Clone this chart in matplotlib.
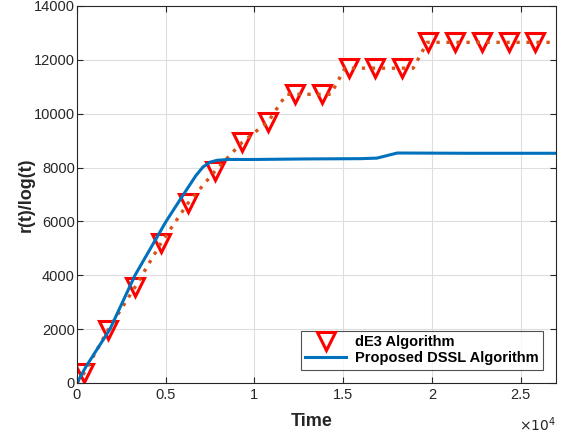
import matplotlib.pyplot as plt

plt.rcParams['font.family'] = ['Liberation Sans', 'DejaVu Sans']

# dE3 curve (dotted line) knots
t_de3 = [0, 400, 1750, 3270, 4740, 6260, 7780, 9310, 10770, 11800, 13820, 14300,
         15100, 16810, 18330, 18950, 19740, 27000]
r_de3 = [0, 370, 1970, 3560, 5200, 6680, 7870, 8940, 9700, 10720, 10720, 10720,
         11690, 11690, 11690, 11690, 12650, 12650]

# dE3 markers
t_mark = [400, 1750, 3270, 4740, 6260, 7780, 9310, 10770, 12300, 13820, 15340,
          16810, 18330, 19800, 21320, 22840, 24370, 25830]
r_mark = [370, 1970, 3560, 5200, 6680, 7870, 8940, 9680, 10720, 10720, 11690,
          11690, 11690, 12650, 12650, 12650, 12650, 12650]

# proposed DSSL
t_dssl = [0, 500, 1860, 3270, 5020, 6000, 6700, 7100, 7500, 7900, 8500, 10000,
          13000, 16000, 16900, 18050, 22000, 27000]
r_dssl = [0, 600, 2000, 4000, 6000, 7000, 7700, 8020, 8200, 8270, 8300, 8300,
          8320, 8330, 8350, 8540, 8530, 8530]

fig = plt.figure(figsize=(5.69, 4.36), dpi=100)
ax = fig.add_axes([0.1353, 0.1216, 0.842, 0.8647])

ax.plot(t_mark, r_mark, 'v', markersize=13, markerfacecolor='none',
        markeredgecolor='red', markeredgewidth=2.2, label='dE3 Algorithm')
ax.plot(t_de3, r_de3, linestyle=(0, (1, 2)), color='#D95319', linewidth=2.4)
ax.plot(t_dssl, r_dssl, '-', color='#0072BD', linewidth=2.2,
        label='Proposed DSSL Algorithm')

ax.set_xlim(0, 27000)
ax.set_ylim(0, 14000)
ax.set_xticks([0, 5000, 10000, 15000, 20000, 25000])
ax.set_xticklabels(['0', '0.5', '1', '1.5', '2', '2.5'])
ax.set_yticks(range(0, 14001, 2000))
ax.grid(True, color='#DEDEDE', linewidth=0.8)
ax.set_axisbelow(True)
ax.tick_params(direction='in', top=True, right=True, labelsize=10.5,
               colors='#262626', length=4)
ax.tick_params(axis='y', pad=1.5)
for s in ax.spines.values():
    s.set_color('#262626')

ax.set_xlabel('Time', fontsize=13, fontweight='bold', color='#262626')
ax.xaxis.set_label_coords(0.49, -0.08)
ax.set_ylabel('r(t)/log(t)', fontsize=13, fontweight='bold', color='#262626')
ax.yaxis.set_label_coords(-0.088, 0.5)
ax.text(1.0, -0.11, r'$\times10^4$', transform=ax.transAxes, ha='right',
        va='center', fontsize=10, color='#262626')

leg = ax.legend(loc='lower right', prop={'weight': 'bold', 'size': 10.5},
                fancybox=False, edgecolor='#262626', borderpad=0.3,
                handlelength=2.8, labelspacing=0.15, borderaxespad=0.9,
                handletextpad=0.6)
leg.get_frame().set_linewidth(0.8)

fig.savefig('out.png', dpi=100)
